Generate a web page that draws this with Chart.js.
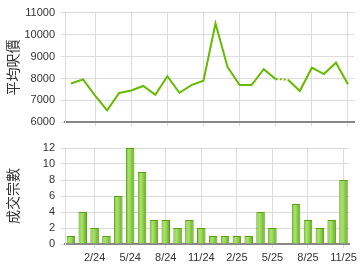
<!DOCTYPE html>
<html>
<head>
<meta charset="utf-8">
<script src="https://cdn.jsdelivr.net/npm/chart.js@4"></script>
<style>
  html, body { margin: 0; padding: 0; background: #fff; }
  #wrap { position: relative; width: 360px; height: 270px; }
  .box { position: absolute; left: 0; width: 360px; height: 135px; }
</style>
</head>
<body>
<div id="wrap">
  <div class="box" style="top:0"><canvas id="PriceChart" width="360" height="135"></canvas></div>
  <div class="box" style="top:135px"><canvas id="DealChart" width="360" height="135"></canvas></div>
</div>
<script>
var months = ["12/23", "1/24", "2/24", "3/24", "4/24", "5/24", "6/24", "7/24", "8/24", "9/24", "10/24", "11/24",
              "12/24", "1/25", "2/25", "3/25", "4/25", "5/25", "6/25", "7/25", "8/25", "9/25", "10/25", "11/25"];
var avgPrice = [7770, 7960, 7220, 6550, 7340, 7450, 7660, 7260, 8100, 7350, 7700, 7900,
                10500, 8520, 7700, 7700, 8420, 7970, 7950, 7430, 8490, 8200, 8720, 7740];
var deals = [1, 4, 2, 1, 6, 12, 9, 3, 3, 2, 3, 2,
             1, 1, 1, 1, 4, 2, 0, 5, 3, 2, 3, 8];
var priceTicks = { min: 6000, max: 11000, step: 1000 };
var dealTicks = { min: 0, max: 12, step: 2 };

Chart.defaults.font.family = '"Liberation Sans", Arial, "Noto Sans CJK TC", sans-serif';
Chart.defaults.font.size = 11;
Chart.defaults.color = "#333";
Chart.defaults.animation = false;

var gridCol = "#dcdcdc";

function xGridColor(c) {
  return c.index % 3 === 2 ? gridCol : "rgba(0,0,0,0)";
}

function yAxis(title, t) {
  return {
    min: t.min,
    max: t.max,
    ticks: {
      stepSize: t.step,
      padding: 6,
      autoSkip: false,
      callback: function (v) { return String(v); }
    },
    grid: { color: gridCol, tickLength: 4 },
    border: { color: gridCol },
    title: {
      display: true,
      text: title,
      color: "#333",
      font: { size: 14, family: '"Noto Sans CJK TC", sans-serif' },
      padding: { top: 4, bottom: 0 }
    },
    afterFit: function (scale) { scale.width = 65; }
  };
}

// top: average price line
var ctx = document.getElementById("PriceChart").getContext("2d");
var chart = new Chart(ctx, {
  type: "line",
  data: {
    labels: months,
    datasets: [
      {
        data: avgPrice,
        borderColor: "#66bb00",
        borderWidth: 2,
        pointRadius: 0,
        tension: 0,
        segment: {
          // month without deals -> dotted
          borderDash: function (c) { return deals[c.p1DataIndex] === 0 ? [2, 2] : undefined; }
        }
      }
    ]
  },
  options: {
    responsive: false,
    layout: { padding: { left: 0, right: 6, top: 7, bottom: 0 } },
    plugins: { legend: { display: false }, tooltip: { enabled: false } },
    scales: {
      x: {
        offset: true,
        ticks: { display: false, autoSkip: false },
        grid: { offset: false, color: xGridColor, tickLength: 4 },
        border: { color: "#888", width: 2 },
        afterFit: function (scale) { scale.height = 5; }
      },
      y: yAxis("平均呎價", priceTicks)
    }
  }
});

// bottom: number of deals
function barFill(c) {
  var ch = c.chart;
  if (!ch.chartArea || !ch.scales.x) return "#8ccf4a";
  var x = ch.scales.x.getPixelForValue(c.dataIndex);
  var w = 4.4;
  var g = ch.ctx.createLinearGradient(x - w, 0, x + w, 0);
  g.addColorStop(0, "#74c22e");
  g.addColorStop(0.35, "#ace270");
  g.addColorStop(0.6, "#8fd24c");
  g.addColorStop(1, "#5aa212");
  return g;
}

var ctx = document.getElementById("DealChart").getContext("2d");
var chart = new Chart(ctx, {
  type: "bar",
  data: {
    labels: months,
    datasets: [
      {
        data: deals,
        backgroundColor: barFill,
        borderColor: "#5a9e14",
        borderWidth: 1,
        barPercentage: 0.72,
        categoryPercentage: 1
      }
    ]
  },
  options: {
    responsive: false,
    layout: { padding: { left: 0, right: 6, top: 13, bottom: 0 } },
    plugins: { legend: { display: false }, tooltip: { enabled: false } },
    scales: {
      x: {
        offset: true,
        ticks: {
          autoSkip: false,
          maxRotation: 0,
          padding: 3,
          callback: function (v, i) { return i % 3 === 2 ? months[i] : ""; }
        },
        grid: { offset: false, color: xGridColor, tickLength: 4 },
        border: { color: "#888", width: 2 },
        afterFit: function (scale) { scale.height = 26; }
      },
      y: yAxis("成交宗數", dealTicks)
    }
  }
});
</script>
</body>
</html>
